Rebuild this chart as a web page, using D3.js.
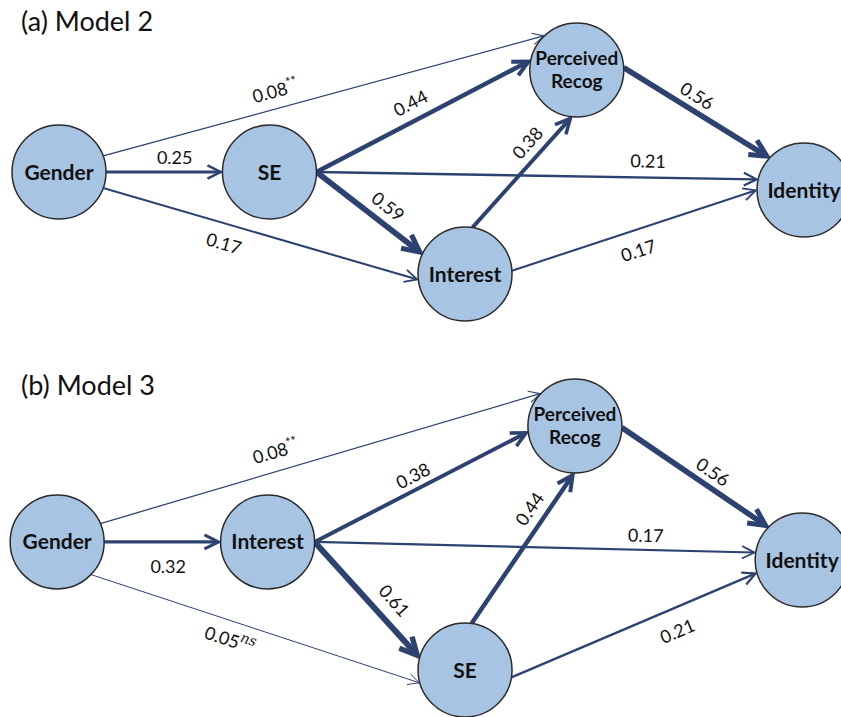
<!DOCTYPE html>
<html>
<head>
<meta charset="utf-8">
<script src="https://cdn.jsdelivr.net/npm/d3@7"></script>
<style>
  body { margin: 0; background: #fff; }
  svg text { font-family: Lato, "Open Sans", sans-serif; }
</style>
</head>
<body>
<div id="chart"></div>
<script>
// panel titles
const panelTitles = ["(a) Model 2", "(b) Model 3"];

// nodes in each model
const nodesA = ["Gender", "SE", "Interest", "Perceived Recog", "Identity"];
const nodesB = ["Gender", "Interest", "SE", "Perceived Recog", "Identity"];

// path estimates: source, target, coefficient, superscript note
const pathsA = [
  ["Gender", "Perceived Recog", 0.08, "**"],
  ["Gender", "SE", 0.25, ""],
  ["Gender", "Interest", 0.17, ""],
  ["SE", "Perceived Recog", 0.44, ""],
  ["SE", "Identity", 0.21, ""],
  ["SE", "Interest", 0.59, ""],
  ["Interest", "Perceived Recog", 0.38, ""],
  ["Interest", "Identity", 0.17, ""],
  ["Perceived Recog", "Identity", 0.56, ""]
];
const pathsB = [
  ["Gender", "Perceived Recog", 0.08, "**"],
  ["Gender", "Interest", 0.32, ""],
  ["Gender", "SE", 0.05, "ns"],
  ["Interest", "Perceived Recog", 0.38, ""],
  ["Interest", "Identity", 0.17, ""],
  ["Interest", "SE", 0.61, ""],
  ["SE", "Perceived Recog", 0.44, ""],
  ["SE", "Identity", 0.21, ""],
  ["Perceived Recog", "Identity", 0.56, ""]
];

// ---- layout (kept apart from the data) ----
// node grid: [column, row] within a panel
const gridA = { "Gender": [0, 0.5], "SE": [1.13, 0.5], "Interest": [2.18, 1], "Perceived Recog": [2.78, 0], "Identity": [4, 0.588] };
const gridB = { "Gender": [-0.01, 0.475], "Interest": [1.12, 0.475], "SE": [2.18, 1], "Perceived Recog": [2.77, 0], "Identity": [3.99, 0.549] };
// per path: start angle on source, end angle on target (deg), label position t, label offset
const routeA = [[-20, -133, 0.4, 18], [0, 180, 0.59, 15], [20, 173, 0.4, -19], [0, -168, 0.477, 18], [0, -167, 0.75, 17],
                [0, -155, 0.58, 17], [-81, 96, 0.67, 16], [-4, 180, 0.49, -20], [-3, -137, 0.45, 15]];
const routeB = [[-23, -136, 0.41, 20], [0, 180, 0.55, -24], [44, 164, 0.44, -18], [0, 173, 0.49, 14], [0, -171, 0.75, 15],
                [0, -165, 0.62, 20], [-82, 91, 0.7, 17], [9, 164, 0.64, -22], [2, -136, 0.565, 15]];

const width = 841, height = 717, radius = 47;
const edgeColor = "#2d4271";

const svg = d3.select("#chart").append("svg")
  .attr("width", width).attr("height", height);

const x = d3.scaleLinear().domain([0, 4]).range([59, 804]);
const yA = d3.scaleLinear().domain([0, 1]).range([70, 274]);
const yB = d3.scaleLinear().domain([0, 1]).range([426, 670]);
const strokeW = d3.scaleLinear().domain([0.05, 0.61]).range([1, 6]);

const rad = deg => deg * Math.PI / 180;

function drawPanel(title, titleY, nodes, paths, grid, route, y) {
  const g = svg.append("g");
  g.append("text")
    .attr("x", 21).attr("y", titleY)
    .attr("font-size", 27).attr("fill", "#111")
    .text(title);

  const pos = {};
  nodes.forEach(n => { pos[n] = { x: x(grid[n][0]), y: y(grid[n][1]) }; });

  const edges = paths.map((p, i) => {
    const [a0, a1, t, off] = route[i];
    const s = pos[p[0]], e = pos[p[1]];
    const x1 = s.x + radius * Math.cos(rad(a0)), y1 = s.y + radius * Math.sin(rad(a0));
    const x2 = e.x + radius * Math.cos(rad(a1)), y2 = e.y + radius * Math.sin(rad(a1));
    const len = Math.hypot(x2 - x1, y2 - y1);
    const ux = (x2 - x1) / len, uy = (y2 - y1) / len;
    return { src: p[0], tgt: p[1], v: p[2], note: p[3], x1, y1, x2, y2, ux, uy, t, off, w: strokeW(p[2]) };
  });

  const eg = g.append("g");
  eg.selectAll("line").data(edges).enter().append("line")
    .attr("x1", d => d.x1).attr("y1", d => d.y1)
    .attr("x2", d => d.x2 - d.ux * d.w * 0.8).attr("y2", d => d.y2 - d.uy * d.w * 0.8)
    .attr("stroke", edgeColor)
    .attr("stroke-width", d => d.w);

  // open chevron arrowheads
  eg.selectAll("path.head").data(edges).enter().append("path")
    .attr("class", "head")
    .attr("fill", "none")
    .attr("stroke", edgeColor)
    .attr("stroke-width", d => Math.max(1, d.w * 0.9))
    .attr("stroke-linejoin", "miter")
    .attr("d", d => {
      const L = 10 + 1.2 * d.w, H = 0.5 * L;
      const tx = d.x2 - d.ux * d.w * 0.6, ty = d.y2 - d.uy * d.w * 0.6;
      const bx = tx - d.ux * L, by = ty - d.uy * L;
      const nx = -d.uy, ny = d.ux;
      return `M${bx + nx * H},${by + ny * H}L${tx},${ty}L${bx - nx * H},${by - ny * H}`;
    });

  // coefficient labels, rotated along each path
  const lab = g.selectAll("text.coef").data(edges).enter().append("text")
    .attr("class", "coef")
    .attr("font-size", 18)
    .attr("fill", "#111")
    .attr("text-anchor", "middle")
    .attr("dominant-baseline", "central")
    .attr("transform", d => {
      const px = d.x1 + (d.x2 - d.x1) * d.t + d.uy * d.off;
      const py = d.y1 + (d.y2 - d.y1) * d.t - d.ux * d.off;
      const ang = Math.atan2(d.uy, d.ux) * 180 / Math.PI;
      return `translate(${px},${py}) rotate(${ang})`;
    });
  lab.append("tspan").text(d => d3.format(".2f")(d.v));
  lab.filter(d => d.note).append("tspan")
    .attr("dy", d => d.note === "ns" ? -6 : -5)
    .attr("font-size", d => d.note === "ns" ? 14 : 13)
    .attr("font-style", d => d.note === "ns" ? "italic" : null)
    .attr("font-family", d => d.note === "ns" ? "'DejaVu Serif', serif" : null)
    .text(d => d.note);

  // nodes
  const ng = g.selectAll("g.node").data(nodes).enter().append("g")
    .attr("class", "node")
    .attr("transform", n => `translate(${pos[n].x},${pos[n].y})`);
  ng.append("circle")
    .attr("r", radius)
    .attr("fill", "#a8c4e3")
    .attr("stroke", "#2b2b2b")
    .attr("stroke-width", 1.5);
  ng.each(function (n) {
    const words = n.split(" ");
    const fs = words.length > 1 ? 19 : 21;
    const t = d3.select(this).append("text")
      .attr("text-anchor", "middle")
      .attr("font-weight", "bold")
      .attr("font-size", fs)
      .attr("fill", "#111");
    words.forEach((wd, i) => {
      t.append("tspan")
        .attr("x", 0)
        .attr("y", (i - (words.length - 1) / 2) * 23 + fs * 0.36)
        .text(wd);
    });
  });
}

drawPanel(panelTitles[0], 31, nodesA, pathsA, gridA, routeA, yA);
drawPanel(panelTitles[1], 395, nodesB, pathsB, gridB, routeB, yB);
</script>
</body>
</html>
